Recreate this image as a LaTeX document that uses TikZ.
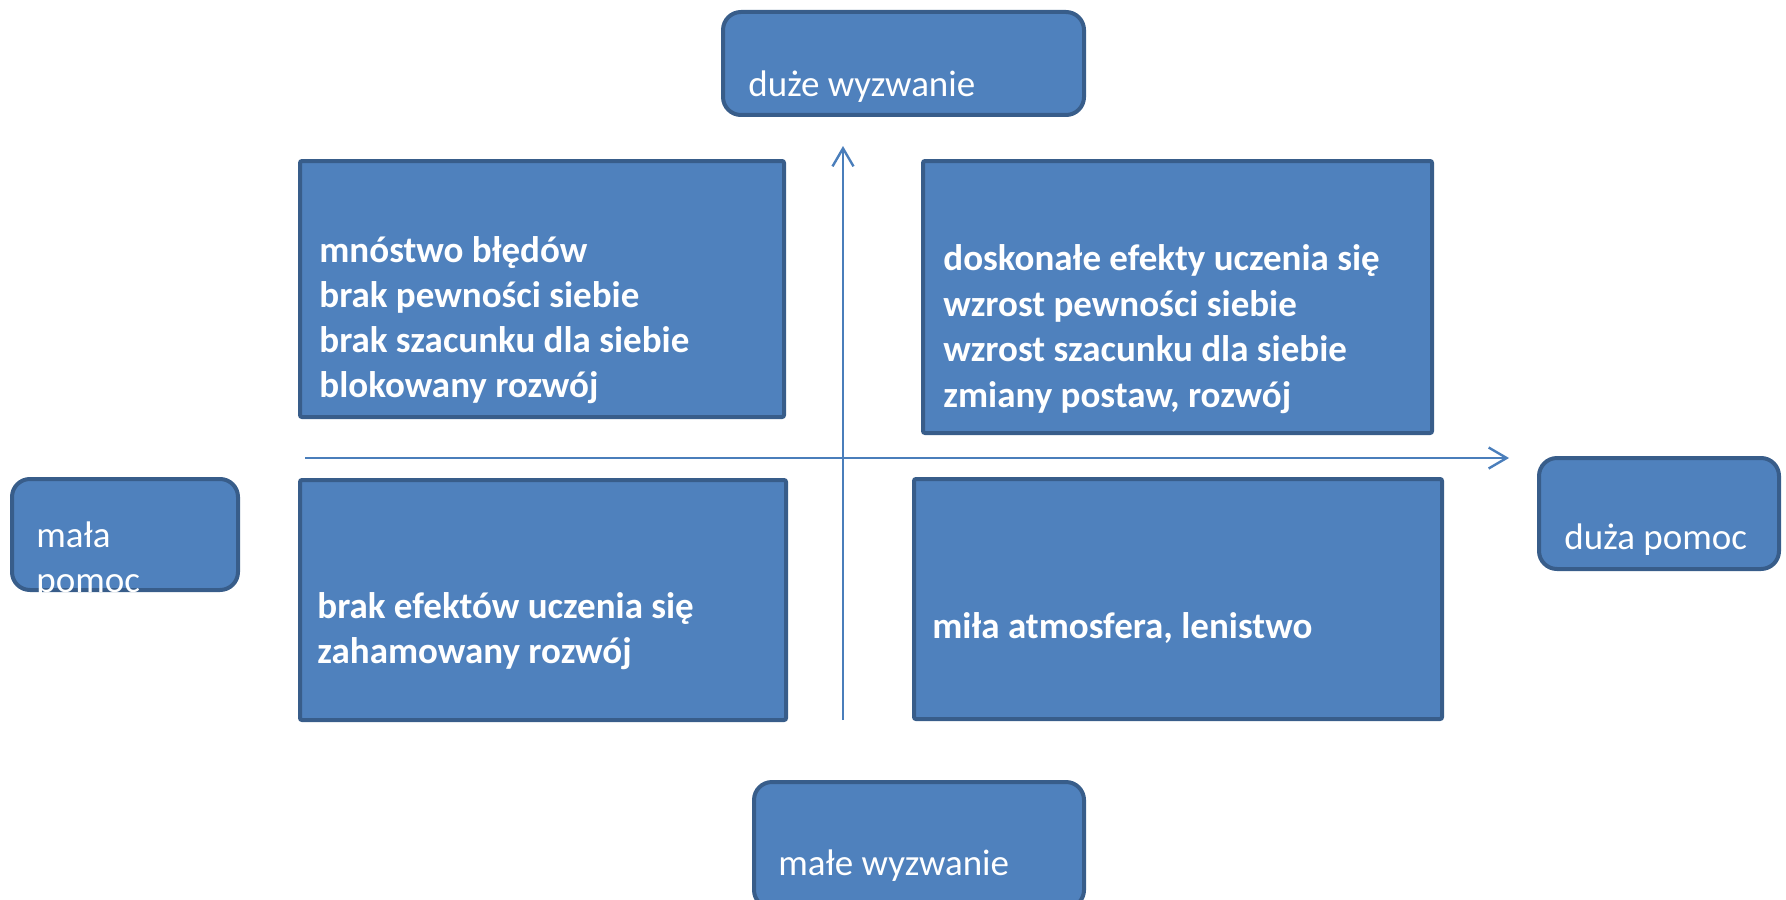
\documentclass[tikz,border=0pt]{standalone}
\usepackage{fontspec}
\setmainfont{Carlito}
\usetikzlibrary{arrows.meta}
\definecolor{boxfill}{HTML}{4F81BD}
\definecolor{boxline}{HTML}{385D8A}
\definecolor{axisline}{HTML}{4A7EBB}
\tikzset{
  panel/.style={draw=boxline, fill=boxfill, line width=2pt, rectangle, rounded corners=1pt, inner sep=0pt, outer sep=0pt},
  pill/.style={draw=boxline, fill=boxfill, line width=2pt, rectangle, rounded corners=9pt, inner sep=0pt, outer sep=0pt},
  boldtxt/.style={text=white, anchor=base west, inner sep=0pt, font=\fontsize{18.5pt}{23pt}\selectfont\bfseries},
  plaintxt/.style={text=white, anchor=base west, inner sep=0pt, font=\fontsize{18.5pt}{22.5pt}\selectfont},
  axis/.style={draw=axisline, line width=1.2pt, -{Straight Barb[length=9pt,width=10.5pt,line width=1.2pt]}}
}
\begin{document}
\begin{tikzpicture}[x=0.5pt,y=-0.5pt]
\useasboundingbox (0,0) rectangle (1786,899);
\clip (0,0) rectangle (1786,899);
% axes
\coordinate (vbot) at (843,720);
\coordinate (vtop) at (843,146);
\coordinate (hleft) at (305,458);
\coordinate (hright) at (1509,458);
% quadrant panels
\node[panel, minimum width=242pt, minimum height=128pt] (tl) at (542,289) {};
\node[panel, minimum width=254.5pt, minimum height=136pt] (tr) at (1177.5,297) {};
\node[panel, minimum width=243pt, minimum height=120pt] (bl) at (543,600) {};
\node[panel, minimum width=264pt, minimum height=120pt] (br) at (1178,599) {};
% axis arrows
\draw[axis] (vbot) -- (vtop);
\draw[axis] (hleft) -- (hright);
% end labels
\node[pill, minimum width=180.5pt, minimum height=51.5pt] (top) at (903.5,63.5) {};
\node[pill, minimum width=165pt, minimum height=63pt] (bottom) at (919,845) {};
\node[pill, minimum width=113pt, minimum height=55.5pt] (left) at (125,534.5) {};
\node[pill, minimum width=120pt, minimum height=55.5pt] (right) at (1659,513.5) {};
% texts
\node[plaintxt] (toptxt) at (748,97) {duże wyzwanie};
\node[plaintxt] (bottomtxt) at (778,875) {małe wyzwanie};
\node[plaintxt] (lefttxta) at (36,547) {mała};
\node[plaintxt] (lefttxtb) at (36,592) {pomoc};
\node[plaintxt] (righttxt) at (1564,549) {duża pomoc};
\node[boldtxt] (tla) at (319,262) {mnóstwo błędów};
\node[boldtxt] (tlb) at (319,307) {brak pewności siebie};
\node[boldtxt] (tlc) at (319,352) {brak szacunku dla siebie};
\node[boldtxt] (tld) at (319,397) {blokowany rozwój};
\node[boldtxt] (tra) at (943,270) {doskonałe efekty uczenia się};
\node[boldtxt] (trb) at (943,316) {wzrost pewności siebie};
\node[boldtxt] (trc) at (943,361) {wzrost szacunku dla siebie};
\node[boldtxt] (trd) at (943,407) {zmiany postaw, rozwój};
\node[boldtxt] (bla) at (317,618) {brak efektów uczenia się};
\node[boldtxt] (blb) at (317,663) {zahamowany rozwój};
\node[boldtxt] (bra) at (932,638) {miła atmosfera, lenistwo};
\end{tikzpicture}
\end{document}
